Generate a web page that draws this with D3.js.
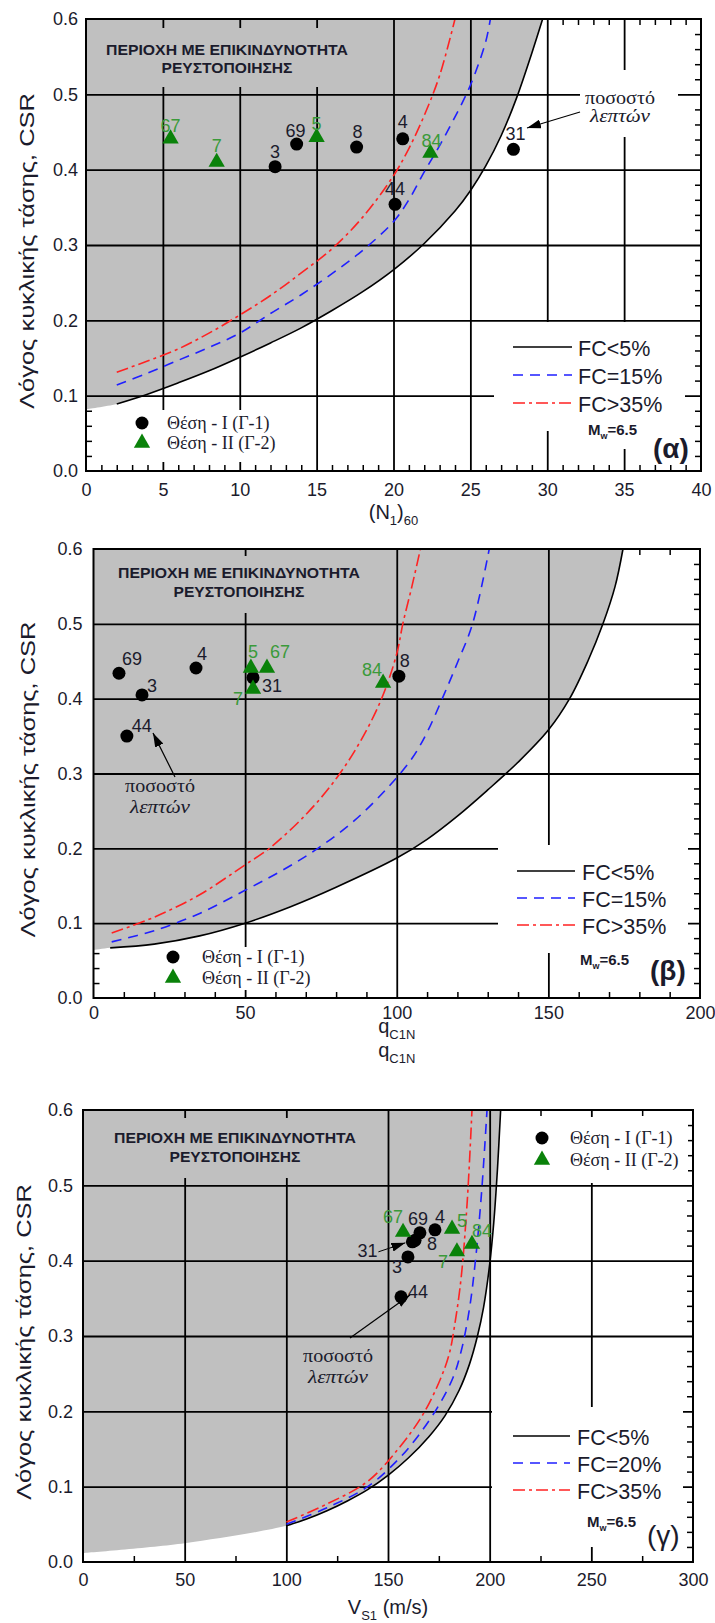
<!DOCTYPE html>
<html>
<head>
<meta charset="utf-8">
<script src="https://cdnjs.cloudflare.com/ajax/libs/d3/7.8.5/d3.min.js"></script>
<style>
  body { margin: 0; background: #fff; }
  svg { display: block; font-family: "Liberation Sans", Arial, sans-serif; }
</style>
</head>
<body>
<div id="chart"></div>
<script>
// values
const csrTicks = [0, 0.1, 0.2, 0.3, 0.4, 0.5, 0.6];

// (α) SPT, (N1)60
const sptTicks = [0, 5, 10, 15, 20, 25, 30, 35, 40];
const sptSite1 = [
  { id: "3", x: 12.3, y: 0.404 }, { id: "69", x: 13.7, y: 0.434 }, { id: "8", x: 17.6, y: 0.43 },
  { id: "4", x: 20.6, y: 0.441 }, { id: "44", x: 20.1, y: 0.354 }, { id: "31", x: 27.8, y: 0.427 }
];
const sptSite2 = [
  { id: "67", x: 5.5, y: 0.441 }, { id: "7", x: 8.5, y: 0.41 }, { id: "5", x: 15.0, y: 0.443 }, { id: "84", x: 22.4, y: 0.422 }
];
const sptFC5 = [[2, 0.089], [4, 0.102], [6, 0.117], [8, 0.133], [10, 0.151], [12, 0.17], [14, 0.19], [16, 0.213],
  [18, 0.238], [20, 0.267], [22, 0.302], [24, 0.345], [25, 0.372], [26, 0.405], [27, 0.445], [28, 0.495], [29, 0.555], [29.7, 0.6]];
const sptFC15 = [[2, 0.114], [4, 0.13], [6, 0.147], [8, 0.164], [10, 0.183], [12, 0.209], [14, 0.234], [16, 0.262],
  [18, 0.293], [20, 0.331], [21, 0.36], [22, 0.397], [23, 0.432], [24, 0.47], [25, 0.512], [26, 0.57], [26.3, 0.6]];
const sptFC35 = [[2, 0.131], [4, 0.146], [6, 0.162], [8, 0.183], [10, 0.207], [12, 0.233], [14, 0.263], [16, 0.295],
  [18, 0.337], [20, 0.392], [21, 0.428], [22, 0.472], [23, 0.525], [24, 0.6]];
const sptGrayStart = [[0, 0.082]];

// (β) CPT, qC1N
const cptTicks = [0, 50, 100, 150, 200];
const cptSite1 = [
  { id: "69", x: 8.4, y: 0.434 }, { id: "3", x: 16.0, y: 0.405 }, { id: "44", x: 11.0, y: 0.35 },
  { id: "4", x: 33.8, y: 0.441 }, { id: "31", x: 52.6, y: 0.428 }, { id: "8", x: 100.7, y: 0.43 }
];
const cptSite2 = [
  { id: "5", x: 51.9, y: 0.441 }, { id: "67", x: 57.2, y: 0.441 }, { id: "7", x: 52.6, y: 0.413 }, { id: "84", x: 95.5, y: 0.421 }
];
const cptFC5 = [[5.5, 0.067], [20, 0.072], [35, 0.083], [50, 0.1], [65, 0.122], [80, 0.148], [100, 0.187], [110, 0.212],
  [120, 0.243], [130, 0.278], [140, 0.315], [150, 0.358], [157, 0.4], [163, 0.45], [168, 0.5], [172, 0.55], [174.6, 0.6]];
const cptFC15 = [[6, 0.075], [20, 0.09], [35, 0.113], [50, 0.144], [62, 0.17], [74, 0.2], [86, 0.237], [97, 0.281],
  [105, 0.32], [110, 0.355], [115, 0.4], [120, 0.448], [125, 0.5], [130.5, 0.6]];
const cptFC35 = [[6, 0.087], [20, 0.108], [35, 0.138], [50, 0.178], [58, 0.2], [70, 0.245], [80, 0.293], [88, 0.343],
  [95, 0.4], [100, 0.46], [102, 0.5], [105, 0.55], [107.8, 0.6]];
const cptGrayStart = [[0, 0.064]];

// (γ) shear wave velocity, VS1
const vsTicks = [0, 50, 100, 150, 200, 250, 300];
const vsSite1 = [
  { id: "69", x: 165.7, y: 0.437 }, { id: "8", x: 163.3, y: 0.427 }, { id: "4", x: 173.1, y: 0.441 },
  { id: "3", x: 159.8, y: 0.405 }, { id: "44", x: 156.4, y: 0.352 }, { id: "31", x: 162.0, y: 0.425 }
];
const vsSite2 = [
  { id: "67", x: 157.4, y: 0.438 }, { id: "5", x: 181.5, y: 0.442 }, { id: "7", x: 183.9, y: 0.412 }, { id: "84", x: 191.3, y: 0.422 }
];
const vsFC5 = [[100, 0.048], [110, 0.057], [120, 0.068], [130, 0.081], [140, 0.096], [150, 0.115], [160, 0.138], [170, 0.166],
  [178, 0.194], [185, 0.228], [190, 0.262], [194, 0.3], [197, 0.338], [200, 0.395], [202, 0.45], [203.8, 0.52], [205.4, 0.6]];
const vsFC20 = [[100, 0.05], [120, 0.072], [140, 0.1], [155, 0.136], [165, 0.168], [175, 0.208], [182, 0.245], [186, 0.28],
  [190, 0.335], [193, 0.4], [196, 0.49], [198.7, 0.6]];
const vsFC35 = [[100, 0.053], [120, 0.077], [140, 0.107], [155, 0.15], [167, 0.195], [175, 0.238], [180, 0.275], [183, 0.318],
  [186, 0.378], [189, 0.48], [191.3, 0.6]];
const vsGrayStart = [[0, 0.012], [50, 0.025]];

// label offsets from the marker: [dx, dy, anchor]
const sptLabelPos = { "3": [0, -9, "middle"], "69": [-1, -7, "middle"], "8": [1, -9, "middle"], "4": [0, -11, "middle"],
  "44": [0, -9, "middle"], "31": [2, -9, "middle"], "67": [0, -7, "middle"], "7": [0, -10, "middle"], "5": [0, -7, "middle"], "84": [1, -6, "middle"] };
const cptLabelPos = { "69": [3, -8, "start"], "3": [5, -3, "start"], "44": [5, -4, "start"], "4": [1, -8, "start"],
  "31": [9, 14, "start"], "8": [1, -9, "start"], "5": [2, -10, "middle"], "67": [3, -10, "start"], "7": [-20, 16, "start"], "84": [-21, -7, "start"] };
const vsLabelPos = { "69": [-12, -8, "start"], "8": [12, 10, "start"], "4": [0, -7, "start"], "3": [-16, 16, "start"],
  "44": [7, 1, "start"], "31": [-55, 15, "start"], "67": [-20, -9, "start"], "5": [5, -2, "start"], "7": [-19, 16, "start"], "84": [0, -7, "start"] };

const W = 715, H = 1623;
const svg = d3.select("#chart").append("svg").attr("width", W).attr("height", H);

svg.append("defs").append("marker")
  .attr("id", "arrow").attr("viewBox", "0 0 14 9").attr("refX", 14).attr("refY", 4.5)
  .attr("markerWidth", 14).attr("markerHeight", 9).attr("markerUnits", "userSpaceOnUse").attr("orient", "auto")
  .append("path").attr("d", "M0,0L14,4.5L0,9Z").attr("fill", "#000");

const panels = [
  {
    left: 86, right: 701, top: 19, bottom: 471, xDomain: [0, 40], xTicks: sptTicks, xMinor: 1,
    site1: sptSite1, site2: sptSite2, fc5: sptFC5, fcMid: sptFC15, fc35: sptFC35, grayStart: sptGrayStart,
    labelPos: sptLabelPos, fcNames: ["FC<5%", "FC=15%", "FC>35%"], tag: "(α)", tagWeight: "bold",
    xPad: 12, yPad: 8, yLabelX: 27,
    xLabel: [{ parts: [["(N", 0], ["1", 1], [")", 0], ["60", 1]], y: 519 }],
    title: { cx: 141, y1: 36, y2: 54, box: [14, 9, 274, 68] },
    note: { cx: 534, y1: 85, y2: 103, box: [494, 51, 592, 118], arrow: [494, 93, 441, 109] },
    sym: { x: 56, y: 404, gap: 20, tx: 81, box: [34, 391, 214, 443] },
    leg: { x0: 427, x1: 486, y: 328, gap: 28, tx: 492, box: [408, 303, 599, 412] },
    mw: { x: 502, y: 416, box: [494, 401, 564, 430] },
    tagPos: [567, 439]
  },
  {
    left: 93.5, right: 700, top: 549, bottom: 998, xDomain: [0, 200], xTicks: cptTicks, xMinor: 10,
    site1: cptSite1, site2: cptSite2, fc5: cptFC5, fcMid: cptFC15, fc35: cptFC35, grayStart: cptGrayStart,
    labelPos: cptLabelPos, fcNames: ["FC<5%", "FC=15%", "FC>35%"], tag: "(β)", tagWeight: "bold",
    xPad: 8, yPad: 11, yLabelX: 28,
    xLabel: [{ parts: [["q", 0], ["C1N", 1]], y: 1033 }, { parts: [["q", 0], ["C1N", 1]], y: 1057 }],
    title: { cx: 145.5, y1: 29, y2: 48, box: [16.5, 7, 276.5, 64] },
    note: { cx: 66.5, y1: 243, y2: 264, box: null, arrow: [81.5, 228, 59.5, 184] },
    sym: { x: 79.5, y: 408, gap: 21, tx: 108.5, box: [66.5, 398, 236.5, 441] },
    leg: { x0: 423.5, x1: 481.5, y: 322, gap: 27, tx: 488.5, box: [404.5, 296, 594.5, 404] },
    mw: { x: 486.5, y: 416, box: null },
    tagPos: [556.5, 431]
  },
  {
    left: 83, right: 693, top: 1110, bottom: 1562, xDomain: [0, 300], xTicks: vsTicks, xMinor: 25,
    site1: vsSite1, site2: vsSite2, fc5: vsFC5, fcMid: vsFC20, fc35: vsFC35, grayStart: vsGrayStart,
    labelPos: vsLabelPos, fcNames: ["FC<5%", "FC=20%", "FC>35%"], tag: "(γ)", tagWeight: "normal",
    xPad: 11, yPad: 10, yLabelX: 24,
    xLabel: [{ parts: [["V", 0], ["S1", 1], [" (m/s)", 0]], y: 1614 }],
    title: { cx: 152, y1: 33, y2: 52, box: [22, 8, 282, 68] },
    note: { cx: 255, y1: 252, y2: 273, box: null, arrow: [267, 228, 327, 185] },
    sym: { x: 459, y: 28, gap: 22, tx: 487, box: [422, 7, 605, 73] },
    leg: { x0: 430, x1: 487, y: 326, gap: 27, tx: 494, box: [409, 297, 600, 437] },
    mw: { x: 504, y: 417, box: null },
    tagPos: [564, 435],
    pointer: "31"
  }
];

const ink = "#1b1b2c";
const greenMark = "#0a820a";
const greenText = "#3a9a3a";
const tri = d3.symbol().type(d3.symbolTriangle).size(115);
const styles = [
  { color: "#000", dash: null },
  { color: "#1f1fff", dash: "10,7" },
  { color: "#ff2222", dash: "12,4,3,4" }
];

function drawPanel(p) {
  const x = d3.scaleLinear().domain(p.xDomain).range([p.left, p.right]);
  const y = d3.scaleLinear().domain([0, 0.6]).range([p.bottom, p.top]);
  const g = svg.append("g");
  const rx = v => p.left + v, ry = v => p.top + v;
  const near = (arr, v) => arr.some(t => Math.abs(t - v) < 1e-6);

  // minor ticks on every side, pointing inward
  const minorX = d3.range(p.xDomain[0], p.xDomain[1] + 1e-9, p.xMinor).filter(v => !near(p.xTicks, v));
  const minorY = d3.range(0, 0.6001, 0.02).filter(v => !near(csrTicks, v));
  const ticks = (axis, scale, vals, tx, ty, size) => g.append("g")
    .attr("transform", `translate(${tx},${ty})`)
    .call(axis(scale).tickValues(vals).tickSize(size).tickFormat(""))
    .call(s => s.select(".domain").remove())
    .call(s => s.selectAll("line").attr("stroke", "#000").attr("stroke-width", 1.5));
  ticks(d3.axisBottom, x, minorX, 0, p.bottom, -6);
  ticks(d3.axisTop, x, minorX, 0, p.top, -6);
  ticks(d3.axisLeft, y, minorY, p.left, 0, -6);
  ticks(d3.axisRight, y, minorY, p.right, 0, -6);

  // liquefaction zone, above the clean-sand curve
  const line = d3.line().x(d => x(d[0])).y(d => y(d[1])).curve(d3.curveCatmullRom.alpha(0.5));
  g.append("path")
    .attr("d", line(p.grayStart.concat(p.fc5)) + `L${x(p.xDomain[0])},${y(0.6)}Z`)
    .attr("fill", "#c0c0c0");

  // grid
  ticks(d3.axisBottom, x, p.xTicks.slice(1, -1), 0, p.bottom, -(p.bottom - p.top))
    .selectAll("line").attr("stroke-width", 1.8);
  ticks(d3.axisLeft, y, csrTicks.slice(1, -1), p.left, 0, -(p.right - p.left))
    .selectAll("line").attr("stroke-width", 1.8);

  // boxes behind the text hide the grid
  const box = (b, fill) => {
    if (!b) return;
    g.append("rect").attr("x", rx(b[0])).attr("y", ry(b[1]))
      .attr("width", b[2] - b[0]).attr("height", b[3] - b[1]).attr("fill", fill);
  };
  box(p.title.box, "#c0c0c0");
  box(p.note.box, "#fff");
  box(p.sym.box, "#fff");
  box(p.leg.box, "#fff");
  box(p.mw.box, "#fff");

  // criterion curves
  [p.fc5, p.fcMid, p.fc35].forEach((c, i) => {
    g.append("path").attr("d", line(c)).attr("fill", "none")
      .attr("stroke", styles[i].color).attr("stroke-width", 1.6)
      .attr("stroke-dasharray", styles[i].dash);
  });

  g.append("rect").attr("x", p.left).attr("y", p.top)
    .attr("width", p.right - p.left).attr("height", p.bottom - p.top)
    .attr("fill", "none").attr("stroke", "#000").attr("stroke-width", 2);

  // points
  g.selectAll(".s1").data(p.site1).join("circle")
    .attr("cx", d => x(d.x)).attr("cy", d => y(d.y)).attr("r", 6.5).attr("fill", "#000");
  g.selectAll(".s2").data(p.site2).join("path")
    .attr("d", tri).attr("transform", d => `translate(${x(d.x)},${y(d.y)})`).attr("fill", greenMark);

  const labels = (data, color) => g.selectAll(null).data(data).join("text")
    .attr("x", d => x(d.x) + p.labelPos[d.id][0]).attr("y", d => y(d.y) + p.labelPos[d.id][1])
    .attr("text-anchor", d => p.labelPos[d.id][2])
    .attr("font-size", 18).attr("fill", color).text(d => d.id);
  labels(p.site1, ink);
  labels(p.site2, greenText);

  if (p.pointer) {
    const d = p.site1.find(s => s.id === p.pointer);
    g.append("line").attr("x1", x(d.x) - 34).attr("y1", y(d.y) + 10)
      .attr("x2", x(d.x) - 7).attr("y2", y(d.y) + 1)
      .attr("stroke", "#000").attr("stroke-width", 1).attr("marker-end", "url(#arrow)");
  }

  // title inside the zone
  const t = p.title;
  g.append("text").attr("x", rx(t.cx)).attr("y", ry(t.y1)).attr("text-anchor", "middle")
    .attr("font-size", 15).attr("font-weight", "bold").attr("fill", ink)
    .attr("textLength", 242).attr("lengthAdjust", "spacingAndGlyphs").text("ΠΕΡΙΟΧΗ ΜΕ ΕΠΙΚΙΝΔΥΝΟΤΗΤΑ");
  g.append("text").attr("x", rx(t.cx)).attr("y", ry(t.y2)).attr("text-anchor", "middle")
    .attr("font-size", 15).attr("font-weight", "bold").attr("fill", ink)
    .attr("textLength", 131).attr("lengthAdjust", "spacingAndGlyphs").text("ΡΕΥΣΤΟΠΟΙΗΣΗΣ");

  // fines content note
  const n = p.note;
  g.append("text").attr("x", rx(n.cx)).attr("y", ry(n.y1)).attr("text-anchor", "middle")
    .attr("font-family", "Liberation Serif, serif").attr("font-size", 19).attr("fill", ink)
    .attr("textLength", 70).attr("lengthAdjust", "spacingAndGlyphs").text("ποσοστό");
  g.append("text").attr("x", rx(n.cx)).attr("y", ry(n.y2)).attr("text-anchor", "middle")
    .attr("font-family", "Liberation Serif, serif").attr("font-style", "italic").attr("font-size", 19).attr("fill", ink)
    .attr("textLength", 60).attr("lengthAdjust", "spacingAndGlyphs").text("λεπτών");
  g.append("line").attr("x1", rx(n.arrow[0])).attr("y1", ry(n.arrow[1]))
    .attr("x2", rx(n.arrow[2])).attr("y2", ry(n.arrow[3]))
    .attr("stroke", "#000").attr("stroke-width", 1.2).attr("marker-end", "url(#arrow)");

  // site legend
  const s = p.sym;
  g.append("circle").attr("cx", rx(s.x)).attr("cy", ry(s.y)).attr("r", 6.5).attr("fill", "#000");
  g.append("path").attr("d", tri).attr("transform", `translate(${rx(s.x)},${ry(s.y + s.gap)})`).attr("fill", greenMark);
  ["Θέση - I (Γ-1)", "Θέση - II (Γ-2)"].forEach((txt, i) => {
    g.append("text").attr("x", rx(s.tx)).attr("y", ry(s.y + i * s.gap) + 6)
      .attr("font-family", "Liberation Serif, serif").attr("font-size", 18).attr("fill", ink).text(txt);
  });

  // criterion legend
  const l = p.leg;
  p.fcNames.forEach((txt, i) => {
    const yy = ry(l.y + i * l.gap);
    g.append("line").attr("x1", rx(l.x0)).attr("x2", rx(l.x1)).attr("y1", yy).attr("y2", yy)
      .attr("stroke", styles[i].color).attr("stroke-width", 1.6).attr("stroke-dasharray", styles[i].dash);
    g.append("text").attr("x", rx(l.tx)).attr("y", yy + 9).attr("font-size", 21.5).attr("fill", ink).text(txt);
  });

  const mw = g.append("text").attr("x", rx(p.mw.x)).attr("y", ry(p.mw.y))
    .attr("font-size", 15).attr("font-weight", "bold").attr("fill", ink);
  mw.append("tspan").text("M");
  mw.append("tspan").attr("font-size", 9).attr("dy", 4).text("w");
  mw.append("tspan").attr("dy", -4).text("=6.5");

  g.append("text").attr("x", rx(p.tagPos[0])).attr("y", ry(p.tagPos[1]))
    .attr("font-size", 28).attr("font-weight", p.tagWeight).attr("fill", ink).text(p.tag);

  // tick labels
  g.append("g").attr("transform", `translate(0,${p.bottom})`)
    .call(d3.axisBottom(x).tickValues(p.xTicks).tickSize(0).tickPadding(p.xPad).tickFormat(d3.format("d")))
    .call(s => s.select(".domain").remove())
    .call(s => s.selectAll("text").attr("font-size", 18).attr("font-family", "Liberation Sans, Arial").attr("fill", ink));
  g.append("g").attr("transform", `translate(${p.left},0)`)
    .call(d3.axisLeft(y).tickValues(csrTicks).tickSize(0).tickPadding(p.yPad).tickFormat(d3.format(".1f")))
    .call(s => s.select(".domain").remove())
    .call(s => s.selectAll("text").attr("font-size", 18).attr("font-family", "Liberation Sans, Arial").attr("fill", ink));

  // axis titles
  const cy = (p.top + p.bottom) / 2 + 6;
  g.append("text").attr("transform", `translate(${p.yLabelX + 7},${cy}) rotate(-90)`)
    .attr("text-anchor", "middle").attr("font-size", 21).attr("fill", ink)
    .attr("textLength", 316).attr("lengthAdjust", "spacingAndGlyphs")
    .text("Λόγος κυκλικής τάσης, CSR");

  p.xLabel.forEach(lab => {
    const tx = g.append("text").attr("x", (p.left + p.right) / 2).attr("y", lab.y)
      .attr("text-anchor", "middle").attr("font-size", 20).attr("fill", ink);
    let low = false;
    lab.parts.forEach(([str, sub]) => {
      const ts = tx.append("tspan").text(str);
      if (sub && !low) { ts.attr("font-size", 13).attr("dy", 6); low = true; }
      else if (sub) ts.attr("font-size", 13);
      else if (low) { ts.attr("dy", -6); low = false; }
    });
  });
}

panels.forEach(drawPanel);
</script>
</body>
</html>
